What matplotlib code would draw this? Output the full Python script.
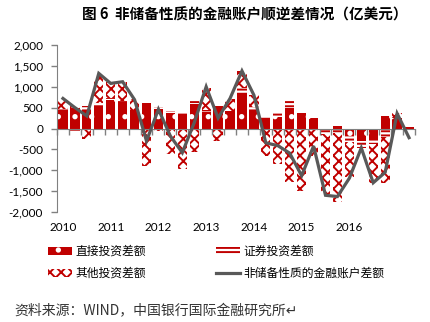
import numpy as np
import matplotlib
matplotlib.use("Agg")
import matplotlib.pyplot as plt

plt.rcParams["font.family"] = ["Noto Sans CJK SC", "DejaVu Sans"]
plt.rcParams["hatch.linewidth"] = 1.4

# quarterly balances, 2010Q1 - 2017Q2 (100 million USD)
quarters = [f"{y}Q{q}" for y in range(2010, 2018) for q in range(1, 5)][:30]
year_labels = ["2010", "2011", "2012", "2013", "2014", "2015", "2016"]

direct = [430, 490, 420, 540, 680, 600, 410, 600, 460, 360,
          340, 580, 400, 540, 415, 840, 415, 257, 273, 500,
          360, 240, -40, 70, -185, -305, -250, 300, 250, 30]
portfolio = [40, -60, 120, 80, 60, 60, 40, 0, 60, 60,
             60, 120, 40, 0, 0, 120, 110, 50, 127, 180,
             0, 0, -80, -100, -130, -160, -120, -200, 0, 0]
other = [200, 60, -240, 640, 380, 460, 250, -900, -60, -600,
         -980, -560, 540, -290, 280, 420, 280, -650, -850, -1270,
         -1490, -650, -1450, -1650, -850, 0, -930, -1100, 110, 0]
non_reserve = [720, 500, 300, 1320, 1080, 1120, 690, -300, 460, -180,
               -580, 140, 1000, 250, 720, 1380, 800, -343, -410, -590,
               -1130, -420, -1600, -1630, -1190, -465, -1300, -1050, 360, -220]

red = "#C00000"
gray = "#595959"

fig = plt.figure(figsize=(4.3, 3.22), dpi=100)
ax = fig.add_axes([57 / 430, 1 - 212 / 322, 358 / 430, 167 / 322])

x = np.arange(len(quarters))
styles = [
    dict(label="直接投资差额", facecolor=red, edgecolor="white", hatch="."),
    dict(label="证券投资差额", facecolor="white", edgecolor=red, hatch="----"),
    dict(label="其他投资差额", facecolor="white", edgecolor=red, hatch="xxx"),
]

pos_base = np.zeros(len(x))
neg_base = np.zeros(len(x))
handles = []
for vals, st in zip([direct, portfolio, other], styles):
    v = np.array(vals, dtype=float)
    base = np.where(v >= 0, pos_base, neg_base)
    bars = ax.bar(x, v, 0.78, bottom=base, linewidth=0, zorder=1, **st)
    handles.append(bars)
    pos_base += np.clip(v, 0, None)
    neg_base += np.clip(v, None, 0)

line, = ax.plot(x, non_reserve, color=gray, lw=2.3, zorder=3,
                solid_joinstyle="miter", label="非储备性质的金融账户差额")

ax.set_xlim(-0.5, len(x) - 0.5)
ax.set_ylim(-2000, 2000)
ax.set_yticks(range(-2000, 2001, 500))
ax.yaxis.set_major_formatter(plt.FuncFormatter(lambda v, p: f"{int(v):,}"))
for lab in ax.get_yticklabels():
    lab.set_family(["Lato", "DejaVu Sans"])
ax.tick_params(axis="y", length=4, width=1, color="#808080", pad=6,
               labelsize=8.5, labelcolor="black")

# category axis drawn through zero, tick marks between quarters
ax.spines["bottom"].set_position(("data", 0))
ax.spines["bottom"].set_color("#808080")
ax.spines["left"].set_color("#808080")
ax.spines["top"].set_visible(False)
ax.spines["right"].set_visible(False)
ax.set_xticks([])
ax.set_xticks(np.arange(-0.5, len(x) + 0.5, 1), minor=True)
ax.tick_params(axis="x", which="minor", length=4, width=1, color="#808080",
               direction="out")

trans = ax.get_xaxis_transform()
for yl in year_labels:
    ax.text(quarters.index(yl + "Q1"), -0.09, yl, transform=trans,
            ha="center", va="center", fontsize=8.5, family=["Lato", "DejaVu Sans"])

fig.legend([handles[0], handles[2], handles[1], line],
           [styles[0]["label"], styles[2]["label"], styles[1]["label"], line.get_label()],
           ncol=2, loc="upper left", bbox_to_anchor=(48 / 430, 1 - 245 / 322),
           frameon=False, fontsize=8.5, borderpad=0, borderaxespad=0,
           handlelength=2.0, handleheight=0.7, handletextpad=0.3,
           columnspacing=6.0, labelspacing=0.75)

fig.text(245 / 430, 1 - 14 / 322, "图 6  非储备性质的金融账户顺逆差情况（亿美元）",
         ha="center", va="center", fontsize=10.5, weight="bold")
fig.text(14 / 430, 1 - 311 / 322, "资料来源：WIND，中国银行国际金融研究所↵",
         ha="left", va="center", fontsize=10, color="#333333")

fig.savefig("out.png", dpi=100)
